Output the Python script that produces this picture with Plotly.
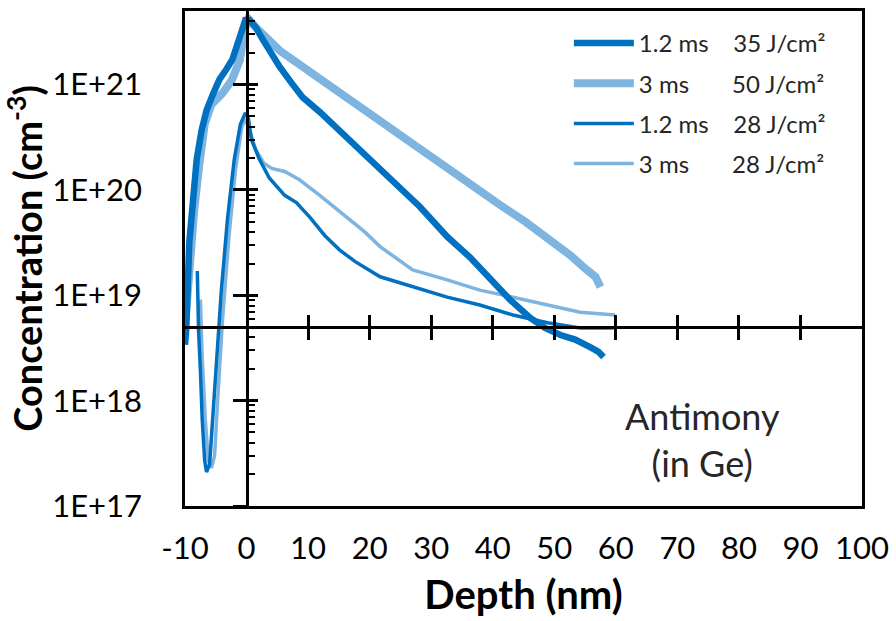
import plotly.graph_objects as go
import math

# ---------------- data ----------------
depth_a = [-10.0, -9.8, -9.3, -8.8, -8.1, -7.3, -6.5, -5.5, -4.4, -3.3, -2.3, -1.5, -0.8, -0.2, 0.5,
           1.5, 2.6, 4.1, 5.4, 7.3, 9.1, 11.9, 15.1, 18.4, 21.7, 24.9, 28.2, 32.6, 36.3, 39.6,
           42.8, 46.1, 48.5, 51.0, 53.4, 55.9, 57.2, 58.0]
conc_a = [3.4e18, 4.7e18, 3.2e19, 8.1e19, 1.95e20, 3.7e20, 5.7e20, 8.0e20, 1.12e21, 1.39e21, 1.73e21,
          2.4e21, 3.2e21, 4.1e21, 4.1e21, 3.5e21, 2.7e21, 1.9e21, 1.47e21, 1.04e21, 7.6e20, 5.5e20,
          3.7e20, 2.4e20, 1.6e20, 1.05e20, 6.9e19, 3.6e19, 2.3e19, 1.4e19, 9.1e18, 6.1e18, 4.9e18,
          4.2e18, 3.8e18, 3.2e18, 2.9e18, 2.6e18]

depth_b = [-9.9, -9.3, -8.5, -7.7, -6.8, -5.7, -3.9, -2.4, -1.1, -0.3, 0.3, 1.5, 2.9, 5.4, 8.6,
           12.7, 16.8, 20.8, 24.9, 29.0, 33.1, 37.1, 41.2, 45.3, 49.3, 52.6, 55.0, 56.7, 57.5]
conc_b = [5.9e18, 1.9e19, 6.5e19, 1.7e20, 4.2e20, 6.5e20, 8.3e20, 1.1e21, 1.7e21, 3.3e21, 4.2e21,
          3.5e21, 2.9e21, 2.1e21, 1.55e21, 1.05e21, 7.2e20, 4.8e20, 3.3e20, 2.3e20, 1.55e20,
          1.05e20, 7.2e19, 5.0e19, 3.4e19, 2.4e19, 1.8e19, 1.5e19, 1.2e19]

depth_c = [-8.0, -7.8, -7.5, -7.2, -6.8, -6.5, -6.0, -5.5, -4.9, -4.1, -3.1, -2.0, -1.0, -0.2, 0.3,
           0.8, 2.1, 3.7, 6.2, 8.1, 10.3, 12.7, 15.1, 17.6, 21.7, 27.0, 32.6, 37.9, 43.3, 48.9,
           54.2, 59.6]
conc_c = [1.7e19, 4.7e18, 1.95e18, 6.6e17, 2.7e17, 2.1e17, 2.5e17, 6.6e17, 2.5e18, 1.1e19, 5.3e19,
          1.95e20, 4.2e20, 5.4e20, 4.8e20, 3.0e20, 1.95e20, 1.3e20, 8.9e19, 7.6e19, 5.5e19, 3.7e19,
          2.7e19, 2.1e19, 1.5e19, 1.2e19, 9.6e18, 8.1e18, 6.5e18, 5.5e18, 4.9e18, 4.9e18]

depth_d = [-7.5, -7.2, -6.7, -6.2, -5.7, -5.2, -4.7, -3.9, -2.9, -1.8, -0.8, -0.2, 0.5, 1.5, 2.8,
           4.1, 6.2, 8.6, 11.9, 16.0, 19.2, 21.7, 27.0, 32.6, 37.9, 43.3, 48.9, 54.2, 59.9]
conc_d = [9.1e18, 2.5e18, 6.6e17, 2.7e17, 2.3e17, 3.0e17, 1.0e18, 5.9e18, 3.4e19, 1.55e20, 3.9e20,
          4.8e20, 3.7e20, 2.4e20, 1.8e20, 1.6e20, 1.5e20, 1.25e20, 8.9e19, 5.7e19, 4.0e19, 2.9e19,
          1.74e19, 1.4e19, 1.12e19, 9.6e18, 8.1e18, 6.9e18, 6.5e18]

series_names = ["1.2 ms\u00a0\u00a0\u00a0 35 J/cm²", "3 ms\u00a0\u00a0\u00a0\u00a0\u00a0\u00a0 50 J/cm²",
                "1.2 ms\u00a0\u00a0\u00a0 28 J/cm²", "3 ms\u00a0\u00a0\u00a0\u00a0\u00a0\u00a0 28 J/cm²"]

x_tick_vals = [-10, 0, 10, 20, 30, 40, 50, 60, 70, 80, 90, 100]
x_tick_text = ["-10", "0", "10", "20", "30", "40", "50", "60", "70", "80", "90", "100"]
y_tick_vals = [1e17, 1e18, 1e19, 1e20, 1e21]
y_tick_text = ["1E+17", "1E+18", "1E+19", "1E+20", "1E+21"]

# ---------------- style ----------------
DARK = "#0070C0"
LIGHT = "#7EB4E0"
FONT = "Lato"
X_RANGE = [-10, 100]
Y_MIN, Y_MAX = 1e17, 5e21
X_CROSS = 5e18   # x axis crosses the y axis here
Y_CROSS = 0      # y axis crosses the x axis here

y_range = [math.log10(Y_MIN), math.log10(Y_MAX)]
x_cross_frac = (math.log10(X_CROSS) - y_range[0]) / (y_range[1] - y_range[0])
y_cross_frac = (Y_CROSS - X_RANGE[0]) / (X_RANGE[1] - X_RANGE[0])
minor_vals = [float(m) * 10.0 ** d for d in range(17, 22) for m in range(2, 10) if m * 10.0 ** d <= Y_MAX]
inner_x_ticks = [v for v in x_tick_vals if v not in (X_RANGE[0], Y_CROSS, X_RANGE[1])]

fig = go.Figure()
traces = [
    (depth_b, conc_b, series_names[1], LIGHT, 8, 2),
    (depth_d, conc_d, series_names[3], LIGHT, 3.5, 4),
    (depth_c, conc_c, series_names[2], DARK, 3.5, 3),
    (depth_a, conc_a, series_names[0], DARK, 6.5, 1),
]
for xs, ys, name, col, w, rank in traces:
    fig.add_trace(go.Scatter(x=xs, y=ys, name=name, mode="lines",
                             line=dict(color=col, width=w), legendrank=rank,
                             legendgroup=name))

# dummy traces so the crossing axes get drawn
fig.add_trace(go.Scatter(x=[], y=[], xaxis="x2", yaxis="y", showlegend=False, hoverinfo="skip"))
fig.add_trace(go.Scatter(x=[], y=[], xaxis="x3", yaxis="y", showlegend=False, hoverinfo="skip"))
fig.add_trace(go.Scatter(x=[], y=[], xaxis="x", yaxis="y2", showlegend=False, hoverinfo="skip"))
fig.add_trace(go.Scatter(x=[], y=[], xaxis="x", yaxis="y3", showlegend=False, hoverinfo="skip"))

line_common = dict(showline=True, linecolor="black", linewidth=2.5, showgrid=False, zeroline=False,
                   automargin=False)

fig.update_layout(
    width=896, height=621,
    margin=dict(l=185, r=34, t=11, b=115),
    paper_bgcolor="white", plot_bgcolor="white",
    font=dict(family=FONT, color="black"),
    xaxis=dict(range=X_RANGE, tickvals=x_tick_vals, ticktext=x_tick_text, ticks="",
               mirror=True, tickfont=dict(size=31, family=FONT, color="black"),
               ticklabelstandoff=13,
               title=dict(text="<b>Depth (nm)</b>", font=dict(size=40, family=FONT, color="black"),
                          standoff=17),
               **line_common),
    yaxis=dict(type="log", range=y_range, tickvals=y_tick_vals, ticktext=y_tick_text, ticks="",
               mirror=True, tickfont=dict(size=31, family=FONT, color="black"),
               ticklabelstandoff=34,
               title=dict(text="<b>Concentration (cm<sup>-3</sup>)</b>",
                          font=dict(size=38, family=FONT, color="black"), standoff=8),
               **line_common),
    xaxis2=dict(overlaying="x", anchor="free", position=x_cross_frac, range=X_RANGE,
                tickvals=inner_x_ticks, ticks="outside", ticklen=11, tickwidth=2.5, tickcolor="black",
                showticklabels=False, **line_common),
    xaxis3=dict(overlaying="x", anchor="free", position=x_cross_frac, range=X_RANGE,
                tickvals=inner_x_ticks, ticks="inside", ticklen=11, tickwidth=2.5, tickcolor="black",
                showticklabels=False, **line_common),
    yaxis2=dict(overlaying="y", anchor="free", position=y_cross_frac, type="log", range=y_range,
                tickvals=y_tick_vals, ticks="outside", ticklen=13, tickwidth=2.5, tickcolor="black",
                showticklabels=False, **line_common),
    yaxis3=dict(overlaying="y", anchor="free", position=y_cross_frac, type="log", range=y_range,
                tickvals=y_tick_vals, ticks="inside", ticklen=10, tickwidth=2.5, tickcolor="black",
                minor=dict(tickvals=minor_vals, ticks="inside", ticklen=7, tickwidth=2, tickcolor="black"),
                showticklabels=False, **line_common),
    legend=dict(x=0.567, y=0.98, xanchor="left", yanchor="top", bgcolor="rgba(0,0,0,0)",
                font=dict(size=24, family=FONT, color="#262626"), tracegroupgap=6,
                itemwidth=60, traceorder="grouped"),
    showlegend=True,
    annotations=[dict(text="Antimony<br>(in Ge)", xref="paper", yref="paper",
                      x=0.765, y=0.135, xanchor="center", yanchor="middle", showarrow=False,
                      font=dict(size=36, family=FONT, color="#262626"))],
)

fig.write_html("out.html", config={"displayModeBar": False},
               post_script="document.body.style.margin='0px';")
